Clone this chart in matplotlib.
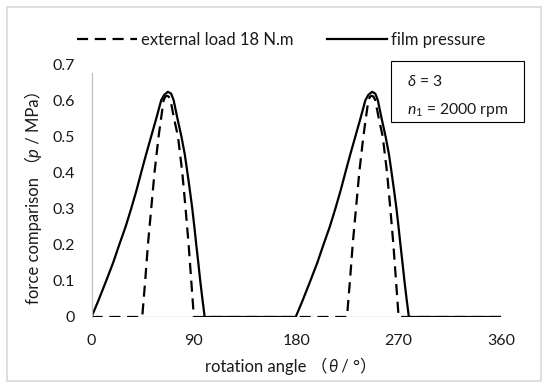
import matplotlib
matplotlib.use("Agg")
import matplotlib.pyplot as plt
from matplotlib.patches import Rectangle
from matplotlib.text import Annotation

# data
theta_film = [0, 6, 12.9, 19, 24.4, 30, 34.9, 39.5, 43.7, 48, 52.5, 57, 61.3, 64, 67.2,
              70, 72.2, 75.5, 79, 82, 84.3, 86.5, 88.6, 90.4, 92.1, 93.9, 95.6, 97.5, 99.5,
              179.5, 185.5, 192.4, 198.5, 203.9, 209.5, 214.4, 219, 223.2, 227.5, 232, 236.5,
              240.8, 243.5, 246.7, 249.5, 251.7, 255, 258.5, 261.5, 263.8, 266, 268.1, 269.9,
              271.6, 273.4, 275.1, 277, 279, 360]
p_film = [0, 0.045, 0.1, 0.15, 0.2, 0.25, 0.3, 0.35, 0.4, 0.45, 0.5, 0.55, 0.6, 0.615, 0.623,
          0.618, 0.6, 0.55, 0.5, 0.45, 0.4, 0.35, 0.3, 0.25, 0.2, 0.15, 0.1, 0.05, 0,
          0, 0.045, 0.1, 0.15, 0.2, 0.25, 0.3, 0.35, 0.4, 0.45, 0.5, 0.55,
          0.6, 0.615, 0.623, 0.618, 0.6, 0.55, 0.5, 0.45, 0.4, 0.35, 0.3, 0.25,
          0.2, 0.15, 0.1, 0.05, 0, 0]

theta_load = [0, 44.6, 47.2, 49.6, 52.5, 55.4, 59, 63.4, 65, 66.3, 67.8, 69.5, 72.5, 76,
              79.8, 82.7, 85.4, 87.7, 90,
              224.6, 227.2, 229.6, 232.5, 235.4, 239, 243.4, 245, 246.3, 247.8, 249.5, 252.5,
              256, 259.8, 262.7, 265.4, 267.7, 270, 360]
p_load = [0, 0, 0.1, 0.2, 0.3, 0.4, 0.5, 0.6, 0.61, 0.612, 0.61, 0.6, 0.55, 0.5,
          0.4, 0.3, 0.2, 0.1, 0,
          0, 0.1, 0.2, 0.3, 0.4, 0.5, 0.6, 0.61, 0.612, 0.61, 0.6, 0.55,
          0.5, 0.4, 0.3, 0.2, 0.1, 0, 0]

x_ticks = [0, 90, 180, 270, 360]
y_ticks = [0, 0.1, 0.2, 0.3, 0.4, 0.5, 0.6, 0.7]
y_labels = ["0", "0.1", "0.2", "0.3", "0.4", "0.5", "0.6", "0.7"]

# plot params
FAMILY = ["Lato", "DejaVu Sans", "Noto Sans CJK SC"]
plt.rcParams["font.family"] = FAMILY
plt.rcParams["mathtext.fontset"] = "custom"
plt.rcParams["mathtext.rm"] = "Lato"
plt.rcParams["mathtext.it"] = "Lato:italic"
plt.rcParams["mathtext.fallback"] = "stixsans"
FS = 12
FS_TICK = 11.5
FS_BOX = 11.3
TXT = "#1a1a1a"
W, H = 550, 389

fig = plt.figure(figsize=(W / 100, H / 100), dpi=100)
ax = fig.add_axes([91.5 / W, 72 / H, 409.5 / W, 253 / H])

ax.plot(theta_load, p_load, color="black", lw=1.6, dashes=(5, 3),
        label="external load 18 N.m")
ax.plot(theta_film, p_film, color="black", lw=1.6, label="film pressure")
ax.axhline(0, color="#bfbfbf", lw=0.9, zorder=0)

ax.set_xlim(0, 360)
ax.set_ylim(0, 0.7)
ax.set_xticks(x_ticks)
ax.set_xticklabels([str(t) for t in x_ticks])
ax.set_yticks(y_ticks)
ax.set_yticklabels(y_labels)
ax.tick_params(axis="x", length=0, pad=12, labelsize=FS_TICK, labelcolor=TXT)
ax.tick_params(axis="y", length=0, pad=12, labelsize=FS_TICK, labelcolor=TXT)
for s in ["top", "right", "bottom"]:
    ax.spines[s].set_visible(False)
ax.spines["left"].set_color("#bfbfbf")
ax.spines["left"].set_linewidth(0.9)
ax.spines["left"].set_bounds(0, 0.676)

ax.legend(loc="center", bbox_to_anchor=(281 / W, 1 - 40 / H),
          bbox_transform=fig.transFigure, ncol=2, frameon=False,
          handlelength=3.6, handletextpad=0.25, columnspacing=2.0, fontsize=FS,
          labelcolor=TXT)

# parameter box
fig.add_artist(Rectangle((391 / W, 1 - 122 / H), 133 / W, 61 / H,
                         transform=fig.transFigure, fill=False, ec="black", lw=0.8))
fig.text(406.7 / W, 1 - 82 / H, r"$\delta$ = 3", va="center", fontsize=FS_BOX, color=TXT)
fig.text(406.7 / W, 1 - 110 / H, r"$n_1$ = 2000 rpm", va="center", fontsize=FS_BOX, color=TXT)

# chart border
fig.add_artist(Rectangle((7 / W, 1 - 381 / H), 534 / W, 374 / H,
                         transform=fig.transFigure, fill=False, ec="#d9d9d9", lw=1.2))


def rich_label(cx, cy, pieces, rotation=0):
    # chain text pieces (mixed italic) and center them on (cx, cy) in pixels
    texts = []
    for i, (s, style) in enumerate(pieces):
        kw = dict(fontsize=FS, fontstyle=style, family=FAMILY, rotation=rotation,
                  color=TXT, va="bottom")
        kw["ha"] = "left" if rotation == 0 else "right"
        if i == 0:
            t = fig.text(0.5, 0.5, s, **kw)
        else:
            xy = (1, 0) if rotation == 0 else (1, 1)
            t = Annotation(s, xy=xy, xycoords=texts[-1], **kw)
            fig.add_artist(t)
        texts.append(t)
    fig.canvas.draw()
    r = fig.canvas.get_renderer()
    boxes = [t.get_window_extent(r) for t in texts]
    x0 = min(b.x0 for b in boxes)
    x1 = max(b.x1 for b in boxes)
    y0 = min(b.y0 for b in boxes)
    y1 = max(b.y1 for b in boxes)
    dx = cx - (x0 + x1) / 2
    dy = (H - cy) - (y0 + y1) / 2
    texts[0].set_position((0.5 + dx / W, 0.5 + dy / H))
    return texts


rich_label(291, 366, [("rotation angle （", "normal"), ("θ", "italic"), (" / °）", "normal")])
rich_label(33, 193, [("force comparison （", "normal"), ("p", "italic"), (" / MPa）", "normal")],
           rotation=90)

fig.savefig("out.png", dpi=100)
